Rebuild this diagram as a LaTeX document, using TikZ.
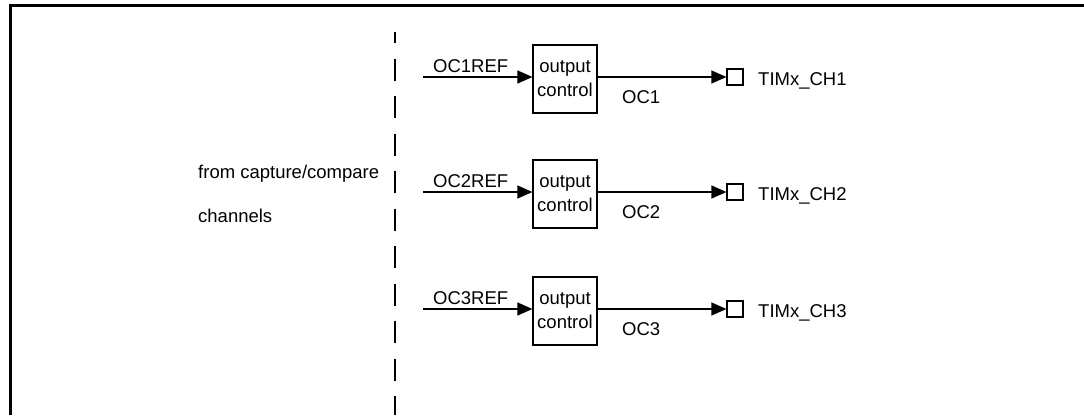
\documentclass[tikz,border=0pt]{standalone}
\usepackage{fontspec}
\setmainfont{Liberation Sans}
\usepackage{tikz}
\usetikzlibrary{arrows.meta}

\tikzset{
  sig/.style={line width=1.2pt, -{Triangle[length=15pt, width=13pt]}},
  ocbox/.style={draw, line width=1.2pt, minimum width=64pt, minimum height=68pt,
    inner sep=0pt, align=center, font=\fontsize{18.5}{24}\selectfont},
  pinbox/.style={draw, line width=1.2pt, minimum size=16pt, inner sep=0pt},
  lbl/.style={inner sep=0pt, font=\fontsize{18.5}{22}\selectfont}
}

\begin{document}
\begin{tikzpicture}[x=1pt, y=-1pt]
  \useasboundingbox (0,0) rectangle (1084,415);
  % Frame
  \draw[line width=3pt] (10,415) -- (10,5) -- (1084,5);
  % Divider
  \draw[line width=1.5pt, dash pattern=on 22pt off 15.5pt, dash phase=11pt]
    (395,32) -- (395,415);
  \node[lbl, anchor=base west] (src1) at (198,178) {from capture/compare};
  \node[lbl, anchor=base west] (src2) at (198,222) {channels};
  % Channel 1
  \coordinate (in1) at (423,77);
  \node[ocbox] (box1) at (565,79) {output\\control};
  \node[pinbox] (pin1) at (735,77) {};
  \draw[sig] (in1) -- (in1 -| box1.west);
  \draw[sig] (pin1.west -| box1.east) -- (pin1.west);
  \node[lbl, anchor=base west] (ref1) at (433,72) {OC1REF};
  \node[lbl, anchor=base west] (oc1) at (622,103) {OC1};
  \node[lbl, anchor=base west] (ch1) at (758,85) {TIMx\_CH1};
  % Channel 2
  \coordinate (in2) at (423,192);
  \node[ocbox] (box2) at (565,194) {output\\control};
  \node[pinbox] (pin2) at (735,192) {};
  \draw[sig] (in2) -- (in2 -| box2.west);
  \draw[sig] (pin2.west -| box2.east) -- (pin2.west);
  \node[lbl, anchor=base west] (ref2) at (433,187) {OC2REF};
  \node[lbl, anchor=base west] (oc2) at (622,218) {OC2};
  \node[lbl, anchor=base west] (ch2) at (758,200) {TIMx\_CH2};
  % Channel 3
  \coordinate (in3) at (423,309);
  \node[ocbox] (box3) at (565,311) {output\\control};
  \node[pinbox] (pin3) at (735,309) {};
  \draw[sig] (in3) -- (in3 -| box3.west);
  \draw[sig] (pin3.west -| box3.east) -- (pin3.west);
  \node[lbl, anchor=base west] (ref3) at (433,304) {OC3REF};
  \node[lbl, anchor=base west] (oc3) at (622,335) {OC3};
  \node[lbl, anchor=base west] (ch3) at (758,317) {TIMx\_CH3};
\end{tikzpicture}
\end{document}
